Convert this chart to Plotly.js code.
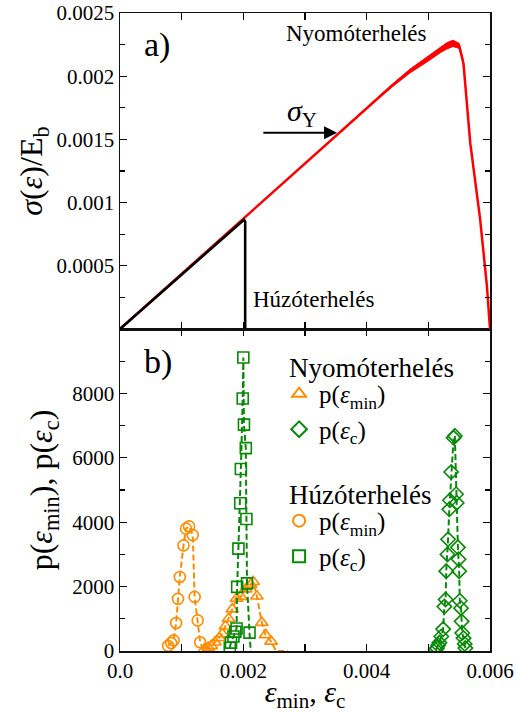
<!DOCTYPE html>
<html>
<head>
<meta charset="utf-8">
<script src="https://cdn.plot.ly/plotly-3.0.1.min.js"></script>
<style>
  html, body { margin: 0; padding: 0; background: #fff; }
  #chart { width: 517px; height: 713px; }
</style>
</head>
<body>
<div id="chart"></div>
<script>
// ---- Panel a): normalised stress vs strain ----
// compression (Nyomóterhelés), red
const compressEps   = [0, 0.0035, 0.0040, 0.0044, 0.0047, 0.0050, 0.0052, 0.0053, 0.0054, 0.0055, 0.00557, 0.00568, 0.00584, 0.00595, 0.0060];
const compressSigma = [0, 0.00153, 0.00175, 0.00192, 0.00204, 0.00214, 0.00221, 0.00224, 0.00226, 0.00224, 0.00210, 0.00147, 0.00087, 0.00034, 0];
// fluctuation envelope of the compression curve in its hardening part
const noiseEps   = [0.0036, 0.0040, 0.0044, 0.0047, 0.0050, 0.0052, 0.0053, 0.0054, 0.0055, 0.00556];
const noiseUpper = [0.001575, 0.001755, 0.00193, 0.002055, 0.00216, 0.002232, 0.002265, 0.002285, 0.00226, 0.00214];
const noiseLower = [0.001565, 0.001745, 0.00191, 0.002025, 0.00212, 0.002188, 0.002215, 0.002235, 0.00222, 0.00212];
// tension (Húzóterhelés), black
const tensionEps   = [0, 0.0019, 0.00201, 0.00203, 0.00203];
const tensionSigma = [0, 0.00082, 0.000865, 0.00085, 0];

// ---- Panel b): distributions ----
// compression, p(eps_min): triangles
const cMinEps = [0.00137, 0.00143, 0.00148, 0.00154, 0.00161, 0.00166, 0.00171, 0.00176, 0.00182, 0.00189, 0.00196, 0.00204, 0.00212, 0.00216, 0.00222, 0.00230, 0.00236, 0.00245, 0.00253, 0.00272];
const cMinP   = [60, 110, 160, 270, 410, 530, 770, 1000, 1300, 1630, 1690, 1920, 2060, 2150, 1700, 880, 500, 300, 0, 0];
// compression, p(eps_c): diamonds
const cCEps = [0.00512, 0.00514, 0.00516, 0.00518, 0.00521, 0.00524, 0.00526, 0.00528, 0.00529, 0.00531, 0.00532, 0.00534, 0.00535, 0.00537, 0.00541, 0.00543, 0.00545, 0.00546, 0.00548, 0.00549, 0.00550, 0.00551, 0.00553, 0.00554, 0.00555, 0.00557, 0.00559, 0.00560];
const cCP   = [40, 90, 180, 260, 450, 680, 1380, 1600, 2480, 3000, 3470, 4400, 4680, 5560, 6620, 6680, 4870, 4600, 3220, 2850, 2480, 1560, 1330, 920, 560, 400, 220, 90];
// tension, p(eps_min): circles
const tMinEps = [0.00078, 0.00083, 0.00087, 0.00091, 0.00094, 0.00097, 0.00103, 0.00107, 0.00112, 0.00118, 0.00121, 0.00126, 0.00130, 0.00136];
const tMinP   = [160, 250, 330, 870, 1620, 2300, 3280, 3800, 3870, 3600, 1680, 950, 270, 0];
// tension, p(eps_c): squares
const tCEps = [0.00178, 0.00180, 0.00184, 0.00187, 0.00189, 0.00190, 0.00192, 0.00195, 0.00196, 0.00199, 0.00200, 0.00201, 0.00204, 0.00205, 0.00206, 0.00210, 0.00212];
const tCP   = [100, 260, 450, 600, 700, 1990, 3180, 4590, 5650, 7840, 9115, 7030, 6300, 4100, 2100, 570, 0];

// axis ticks
const xTickVals = [0, 0.002, 0.004, 0.006];
const xTickText = ['0.0', '0.002', '0.004', '0.006'];
const sigmaTickVals = [0.0005, 0.001, 0.0015, 0.002, 0.0025];
const sigmaTickText = ['0.0005', '0.001', '0.0015', '0.002', '0.0025'];
const pTickVals = [0, 2000, 4000, 6000, 8000];
const pTickText = ['0', '2000', '4000', '6000', '8000'];

const ORANGE = '#ff8c00';
const GREEN = '#078a07';
const FONT = 'Liberation Serif, Times New Roman, serif';
const DASH = '6px,3px';

const traces = [];

// panel a)
traces.push({
  x: noiseEps.concat(noiseEps.slice().reverse()),
  y: noiseUpper.concat(noiseLower.slice().reverse()),
  xaxis: 'x2', yaxis: 'y2', mode: 'lines', fill: 'toself',
  fillcolor: '#ff0000', line: { color: '#ff0000', width: 1 },
  showlegend: false, hoverinfo: 'skip'
});
traces.push({
  x: compressEps, y: compressSigma, xaxis: 'x2', yaxis: 'y2',
  mode: 'lines', line: { color: '#ff0000', width: 2.5 }, showlegend: false
});
traces.push({
  x: tensionEps, y: tensionSigma, xaxis: 'x2', yaxis: 'y2',
  mode: 'lines', line: { color: '#000000', width: 2.6 }, showlegend: false
});

// panel b): dashed connecting lines, then markers (zero bins carry no marker)
function addSeries(xs, ys, color, symbol, group, name) {
  traces.push({
    x: xs, y: ys, xaxis: 'x', yaxis: 'y', mode: 'lines',
    line: { color: color, width: 2, dash: DASH }, showlegend: false
  });
  const mx = [], my = [];
  xs.forEach((v, i) => { if (ys[i] > 0) { mx.push(v); my.push(ys[i]); } });
  traces.push({
    x: mx, y: my, xaxis: 'x', yaxis: 'y', mode: 'markers',
    marker: { symbol: symbol, size: 11, color: color, line: { color: color, width: 1.6 } },
    name: name, legendgroup: group
  });
}
const labMin = 'p(<i>ε</i><sub>min</sub>)';
const labC = 'p(<i>ε</i><sub>c</sub>)';
addSeries(cMinEps, cMinP, ORANGE, 'triangle-up-open', 'nyomo', labMin);
addSeries(cCEps, cCP, GREEN, 'diamond-open', 'nyomo', labC);
addSeries(tMinEps, tMinP, ORANGE, 'circle-open', 'huzo', labMin);
addSeries(tCEps, tCP, GREEN, 'square-open', 'huzo', labC);

const axisCommon = {
  showline: true, linecolor: '#111', linewidth: 1.5, mirror: 'ticks',
  ticks: 'inside', ticklen: 7, tickwidth: 1.3, tickcolor: '#000',
  showgrid: false, zeroline: false,
  tickfont: { family: FONT, size: 21, color: '#000' }
};
const SPLIT = 0.5047;
const TITLE_FONT = { family: FONT, size: 32, color: '#000' };

const layout = {
  width: 517, height: 713,
  margin: { l: 120, r: 27, t: 13, b: 62 },
  paper_bgcolor: '#fff', plot_bgcolor: '#fff',
  font: { family: FONT, color: '#000' },
  showlegend: true,
  legend: {
    x: 0.43, y: 0.439, xanchor: 'left', yanchor: 'top',
    traceorder: 'grouped', tracegroupgap: 56,
    font: { family: FONT, size: 25, color: '#000' },
    bgcolor: 'rgba(0,0,0,0)', itemsizing: 'constant', itemwidth: 30
  },
  xaxis: Object.assign({}, axisCommon, {
    domain: [0, 1], anchor: 'y', range: [0, 0.006],
    tickvals: xTickVals, ticktext: xTickText,
    minor: { tickvals: [0.001, 0.003, 0.005], ticks: 'inside', ticklen: 7, tickwidth: 1.3, tickcolor: '#000' },
    title: { text: '<i>ε</i><sub>min</sub>, <i>ε</i><sub>c</sub>', font: { family: FONT, size: 30, color: '#000' }, standoff: 4 }
  }),
  yaxis: Object.assign({}, axisCommon, {
    domain: [0, SPLIT], anchor: 'x', range: [0, 10000],
    tickvals: pTickVals, ticktext: pTickText,
    minor: { tickvals: [1000, 3000, 5000, 7000, 9000], ticks: 'inside', ticklen: 5, tickwidth: 1.3, tickcolor: '#000' },
    title: { text: 'p(<i>ε</i><sub>min</sub>), p(<i>ε</i><sub>c</sub>)', font: TITLE_FONT, standoff: 10 }
  }),
  xaxis2: Object.assign({}, axisCommon, {
    domain: [0, 1], anchor: 'y2', range: [0, 0.006],
    tickvals: [0.001, 0.002, 0.003, 0.004, 0.005], showticklabels: false
  }),
  yaxis2: Object.assign({}, axisCommon, {
    domain: [SPLIT, 1], anchor: 'x2', range: [0, 0.0025],
    tickvals: sigmaTickVals, ticktext: sigmaTickText,
    minor: { tickvals: [0.00025, 0.00075, 0.00125, 0.00175, 0.00225], ticks: 'inside', ticklen: 5, tickwidth: 1.3, tickcolor: '#000' },
    title: { text: '<i>σ</i>(<i>ε</i>)/E<sub>b</sub>', font: TITLE_FONT, standoff: 4 }
  }),
  annotations: [
    { xref: 'paper', yref: 'paper', x: 0.06, y: 0.95, xanchor: 'left', yanchor: 'middle',
      text: 'a)', showarrow: false, font: { family: FONT, size: 34 } },
    { xref: 'paper', yref: 'paper', x: 0.06, y: 0.453, xanchor: 'left', yanchor: 'middle',
      text: 'b)', showarrow: false, font: { family: FONT, size: 34 } },
    { xref: 'paper', yref: 'paper', x: 0.638, y: 0.968, xanchor: 'center', yanchor: 'middle',
      text: 'Nyomóterhelés', showarrow: false, font: { family: FONT, size: 23 } },
    { xref: 'paper', yref: 'paper', x: 0.522, y: 0.551, xanchor: 'center', yanchor: 'middle',
      text: 'Húzóterhelés', showarrow: false, font: { family: FONT, size: 23 } },
    // legend group headings
    { xref: 'paper', yref: 'paper', x: 0.452, y: 0.4436, xanchor: 'left', yanchor: 'middle',
      text: 'Nyomóterhelés', showarrow: false, font: { family: FONT, size: 27 } },
    { xref: 'paper', yref: 'paper', x: 0.452, y: 0.2445, xanchor: 'left', yanchor: 'middle',
      text: 'Húzóterhelés', showarrow: false, font: { family: FONT, size: 27 } },
    { xref: 'x2', yref: 'y2', x: 0.00352, y: 0.001553, axref: 'x2', ayref: 'y2', ax: 0.0023, ay: 0.001553,
      text: '', showarrow: true, arrowhead: 2, arrowsize: 1.3, arrowwidth: 2, arrowcolor: '#000' },
    { xref: 'x2', yref: 'y2', x: 0.00295, y: 0.00171, xanchor: 'center', yanchor: 'middle',
      text: '<i>σ</i><sub>Y</sub>', showarrow: false, font: { family: FONT, size: 30 } }
  ]
};

Plotly.newPlot('chart', traces, layout, { staticPlot: true, displayModeBar: false });
</script>
</body>
</html>
